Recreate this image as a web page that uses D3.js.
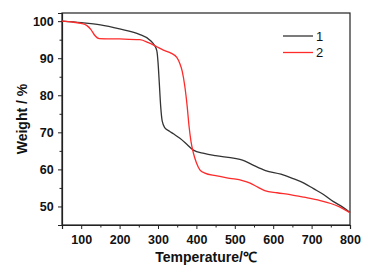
<!DOCTYPE html>
<html>
<head>
<meta charset="utf-8">
<script src="https://cdn.jsdelivr.net/npm/d3@7"></script>
<style>
  body { margin: 0; background: #fff; }
  svg { display: block; font-family: "Liberation Sans", Arial, sans-serif; }
</style>
</head>
<body>
<div id="chart"></div>
<script>
// TGA curves
const temp1 = [50, 100, 150, 200, 250, 280, 290, 297, 300, 303, 307, 311, 318, 330, 340, 357, 375, 392, 420, 450, 500, 520, 545, 580, 620, 650, 680, 705, 730, 757, 780, 800]
const weight1 = [100, 99.6, 99, 97.9, 96.5, 94.8, 93.6, 92, 89, 84, 77, 73, 71.2, 70.3, 69.6, 68.4, 66.8, 65.2, 64.3, 63.7, 63, 62.5, 61.3, 59.7, 58.7, 57.6, 56.3, 54.8, 53.3, 51.3, 49.9, 48.4]

const temp2 = [50, 80, 100, 115, 125, 135, 147, 200, 253, 275, 295, 314, 335, 349, 357, 363, 370, 376, 381, 386, 392, 400, 409, 422, 450, 487, 520, 540, 560, 578, 610, 644, 680, 722, 750, 774, 800]
const weight2 = [100, 99.7, 99.4, 98.8, 97.8, 96.2, 95.3, 95.2, 95, 94.2, 93.2, 92.2, 91.3, 90.2, 88.5, 86.5, 82.3, 77, 71.5, 67.5, 64.5, 61.8, 59.9, 59, 58.3, 57.6, 57, 56.3, 55.2, 54.3, 53.7, 53.2, 52.5, 51.6, 50.8, 49.8, 48.3]

const seriesNames = ["1", "2"]
const seriesColors = ["#333333", "#ff2a2a"]
const xTicks = [100, 200, 300, 400, 500, 600, 700, 800]
const yTicks = [50, 60, 70, 80, 90, 100]

const width = 377, height = 269
const margin = { top: 13, right: 27, bottom: 44, left: 62 }

const svg = d3.select("#chart").append("svg")
    .attr("width", width)
    .attr("height", height)

const x = d3.scaleLinear().domain([50, 800]).range([margin.left, width - margin.right])
const y = d3.scaleLinear().domain([45, 102.2]).range([height - margin.bottom, margin.top])

// frame
svg.append("rect")
    .attr("x", margin.left)
    .attr("y", margin.top)
    .attr("width", width - margin.left - margin.right)
    .attr("height", height - margin.top - margin.bottom)
    .attr("fill", "none")
    .attr("stroke", "#222")
    .attr("stroke-width", 1.2)

// x axis: major + minor ticks
const xAxis = svg.append("g")
    .attr("transform", `translate(0,${height - margin.bottom})`)
    .call(d3.axisBottom(x).tickValues(xTicks).tickSize(4).tickFormat(d3.format("d")))
svg.append("g")
    .attr("transform", `translate(0,${height - margin.bottom})`)
    .call(d3.axisBottom(x).tickValues(d3.range(50, 800, 100)).tickSize(2.5).tickFormat(""))
    .call(g => g.select(".domain").remove())

const yAxis = svg.append("g")
    .attr("transform", `translate(${margin.left},0)`)
    .call(d3.axisLeft(y).tickValues(yTicks).tickSize(4).tickFormat(d3.format("d")))
svg.append("g")
    .attr("transform", `translate(${margin.left},0)`)
    .call(d3.axisLeft(y).tickValues(d3.range(55, 101, 10)).tickSize(2.5).tickFormat(""))
    .call(g => g.select(".domain").remove())

svg.selectAll(".domain").attr("stroke", "#222").attr("stroke-width", 1.2)
svg.selectAll(".tick line").attr("stroke", "#222").attr("stroke-width", 1)
svg.selectAll(".tick text")
    .attr("fill", "#111")
    .style("font-size", "12.5px")
    .style("font-weight", "bold")
xAxis.selectAll(".tick text").attr("dy", "0.95em")
yAxis.selectAll(".tick text").attr("dx", "-0.1em")

// axis titles
svg.append("text")
    .attr("x", (margin.left + width - margin.right) / 2)
    .attr("y", 262)
    .attr("text-anchor", "middle")
    .style("font-size", "14px")
    .style("font-weight", "bold")
    .attr("fill", "#111")
    .text("Temperature/℃")

svg.append("text")
    .attr("transform", `translate(27,${(margin.top + height - margin.bottom) / 2}) rotate(-90)`)
    .attr("text-anchor", "middle")
    .style("font-size", "14px")
    .style("font-weight", "bold")
    .attr("fill", "#111")
    .text("Weight / %")

// curves
const line = d3.line()
    .x(d => x(d[0]))
    .y(d => y(d[1]))
    .curve(d3.curveMonotoneX)

const series = [
    d3.zip(temp1, weight1),
    d3.zip(temp2, weight2)
]

svg.append("g")
    .selectAll("path")
    .data(series)
    .join("path")
    .attr("d", line)
    .attr("fill", "none")
    .attr("stroke", (d, i) => seriesColors[i])
    .attr("stroke-width", 1.3)

// legend
const legend = svg.append("g")
    .selectAll("g")
    .data(seriesNames)
    .join("g")
    .attr("transform", (d, i) => `translate(283,${36 + i * 16.5})`)

legend.append("line")
    .attr("x1", 0).attr("x2", 30)
    .attr("stroke", (d, i) => seriesColors[i])
    .attr("stroke-width", 1.3)

legend.append("text")
    .attr("x", 33)
    .attr("dy", "0.36em")
    .style("font-size", "13px")
    .attr("fill", "#111")
    .text(d => d)
</script>
</body>
</html>
